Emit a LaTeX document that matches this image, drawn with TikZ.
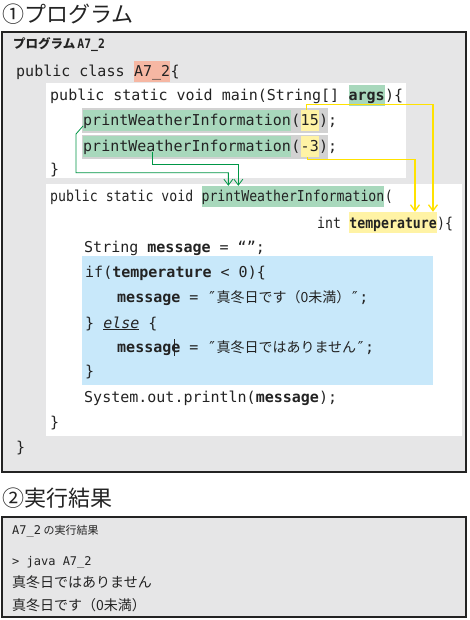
\documentclass[tikz,border=0pt]{standalone}
\usepackage{fontspec}
\setmonofont{DejaVu Sans Mono}
\newfontfamily\jpfont{Noto Sans CJK JP}
\newfontfamily\codenarrow{DejaVu Sans Mono}[FakeStretch=0.88]
\usepackage{xcolor}
\definecolor{boxgray}{RGB}{230,230,231}
\definecolor{inkblack}{RGB}{35,35,35}
\definecolor{hlsalmon}{RGB}{246,183,163}
\definecolor{hlgreen}{RGB}{168,216,188}
\definecolor{hlgray}{RGB}{210,210,210}
\definecolor{hlyellow}{RGB}{255,243,165}
\definecolor{blockblue}{RGB}{200,232,250}
\definecolor{arrowgreen}{RGB}{0,150,70}
\definecolor{arrowyellow}{RGB}{255,226,0}
\usepackage{tikz}
\usetikzlibrary{arrows.meta,positioning}

\newcommand\codefont{\ttfamily\fontsize{15}{18}\selectfont}
\newcommand\narrowcode{\codenarrow\fontsize{15}{18}\selectfont}
\newcommand\jpcode[1]{{\jpfont\fontsize{14}{16}\selectfont #1}}
\newcommand\codegap{\hphantom{0}}

\begin{document}
\begin{tikzpicture}[
    x=1pt, y=-1pt,
    code/.style={font=\codefont, text=inkblack, inner sep=0pt, text height=16pt, text depth=5pt, anchor=base west},
    hl/.style={code, fill=#1},
    heading/.style={font=\jpfont\fontsize{22}{24}\selectfont, text=inkblack, inner sep=0pt, anchor=base west},
    caption/.style={text=inkblack, inner sep=0pt, anchor=base west},
    panel/.style={fill=boxgray, draw=inkblack, line width=1.1pt},
    garrow/.style={-{Straight Barb[length=6pt,width=9pt]}, arrowgreen, line width=0.8pt},
    yarrow/.style={-{Straight Barb[length=6pt,width=9pt]}, arrowyellow, line width=1.3pt}
]
\useasboundingbox (0,0) rectangle (469,620);

% Panels and background blocks
\fill[white] (0,0) rectangle (469,620);
\draw[panel] (2,32) rectangle (466,472);
\fill[white] (46,83) rectangle (406,178);
\fill[white] (46,184) rectangle (462,436);
\fill[hlgray] (82,108) rectangle (328,133);
\fill[hlgray] (82,135) rectangle (328,159);
\fill[blockblue] (82,256) rectangle (433,385);
\draw[panel] (2,517) rectangle (466,617);

% Headings
\node[heading] (title1) at (2,23) {①プログラム};
\node[heading] (title2) at (2,506) {②実行結果};
\node[caption, font=\jpfont\bfseries\fontsize{12.5}{15}\selectfont] (progLabel) at (13,49) {プログラム\,{\codenarrow\fontsize{13}{15}\selectfont A7\_2}};

% Class line
\node[code] (cls) at (16,77) {public class\codegap};
\node[hl=hlsalmon, right=0pt of cls] (clsName) {A7\_2};
\node[code, right=0pt of clsName] (clsOpen) {\{};

% main method
\node[code] (mainSig) at (50,101) {public static void main(String[]\codegap};
\node[hl=hlgreen, right=0pt of mainSig] (args) {\textbf{args}};
\node[code, right=0pt of args] (mainOpen) {)\{};

\node[hl=hlgreen] (call1) at (83,126) {printWeatherInformation};
\node[code, right=0pt of call1] (call1p) {(};
\node[hl=hlyellow, right=0pt of call1p] (arg15) {15};
\node[code, right=0pt of arg15] (call1e) {);};

\node[hl=hlgreen] (call2) at (83,152) {printWeatherInformation};
\node[code, right=0pt of call2] (call2p) {(};
\node[hl=hlyellow, right=0pt of call2p] (argm3) {-3};
\node[code, right=0pt of argm3] (call2e) {);};

\node[code] (mainClose) at (50,175) {\}};

% printWeatherInformation method
\node[code, font=\narrowcode] (defSig) at (50,202) {public static void\codegap};
\node[hl=hlgreen, font=\narrowcode, right=0pt of defSig] (pwiDef) {printWeatherInformation};
\node[code, font=\narrowcode, right=0pt of pwiDef] (defOpen) {(};
\node[code, font=\narrowcode] (intKw) at (317,228) {int\codegap};
\node[hl=hlyellow, font=\narrowcode, right=0pt of intKw] (param) {\textbf{temperature}};
\node[code, font=\narrowcode, right=0pt of param] (paramClose) {)\{};

\node[code] (strDecl) at (84,252) {String \textbf{message} = “”;};
\node[code] (ifLine) at (85,277) {if(\textbf{temperature} < 0)\{};
\node[code] (msgCold) at (117,302) {\textbf{message} = ″\jpcode{真冬日です（0未満）}″;};
\node[code] (elseLine) at (85,328) {\} \underline{\textit{else}} \{};
\node[code] (msgMild) at (117,352) {\textbf{message} = ″\jpcode{真冬日ではありません}″;};
\node[code] (ifClose) at (85,376) {\}};
\node[code] (printLn) at (84,402) {System.out.println(\textbf{message});};
\node[code] (defClose) at (50,427) {\}};
\node[code] (clsClose) at (16,452) {\}};
\draw[inkblack, line width=0.7pt] (174,339) -- (174,356);

% Calls to the method
\draw[garrow] (call1.base west) -- ++(-7,8) |- ([xshift=27pt,yshift=13pt]pwiDef.north west) -- ([xshift=27pt]pwiDef.north west);
\draw[garrow] ([xshift=69pt]call2.base west) -- ++(0,12) -| ([xshift=37pt]pwiDef.north west);

% Arguments to the parameter
\draw[yarrow] ([xshift=-3pt]arg15.north) -- ++(0,-5) -| ([xshift=-4pt]param.north east);
\draw[yarrow] ([xshift=-2pt]argm3.south) -- ++(0,2.5) -| ([xshift=-22pt]param.north east);

% Execution result
\node[caption, font=\jpfont\fontsize{11}{13}\selectfont] (outLabel) at (12,534) {{\ttfamily\fontsize{12}{14}\selectfont A7\_2} の実行結果};
\node[caption, font=\ttfamily\fontsize{12}{14}\selectfont] (cmd) at (12,565) {> java A7\_2};
\node[caption, font=\jpfont\fontsize{14}{16}\selectfont] (out1) at (12,587) {真冬日ではありません};
\node[caption, font=\jpfont\fontsize{14}{16}\selectfont] (out2) at (12,610) {真冬日です（0未満）};
\end{tikzpicture}
\end{document}
